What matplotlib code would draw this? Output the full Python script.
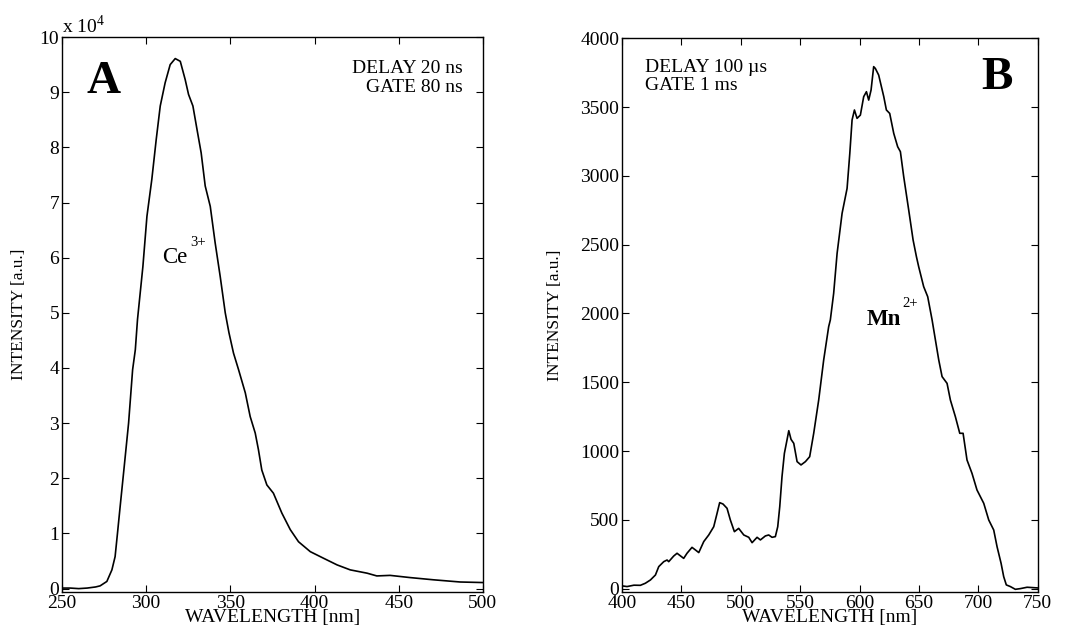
import matplotlib.pyplot as plt

plt.rcParams['font.family'] = ['Liberation Serif', 'DejaVu Serif']
plt.rcParams['mathtext.fontset'] = 'custom'
plt.rcParams['mathtext.rm'] = 'Liberation Serif'

# Panel A: Ce3+ emission (intensity in units of 10^4)
ce_wl = [250, 255, 260, 265, 270, 272.7, 276.7, 279.7, 281.6, 283, 284.6, 287, 289.6,
         292, 293.6, 294.9, 298.1, 300.5, 303.4, 306, 308.4, 311.3, 314.3, 317.3,
         320.3, 323.2, 325.2, 327.8, 330.2, 332.7, 335.1, 338.1, 341, 344, 347,
         349.2, 351.9, 354.9, 358.9, 361.8, 364.8, 366.7, 368.7, 371.7, 375.6,
         380.6, 385.6, 390.5, 397.5, 405.4, 413.4, 421.2, 431.2, 437, 444.9,
         456.8, 470.6, 486.5, 500]
ce_int = [0.01, 0.01, 0.0, 0.01, 0.03, 0.05, 0.13, 0.34, 0.58, 1.0, 1.49, 2.21, 3.0,
          3.97, 4.33, 4.88, 5.84, 6.75, 7.42, 8.14, 8.75, 9.17, 9.50, 9.61,
          9.56, 9.23, 8.96, 8.75, 8.33, 7.9, 7.3, 6.93, 6.27, 5.66, 5.0,
          4.64, 4.27, 3.97, 3.55, 3.12, 2.82, 2.52, 2.15, 1.88, 1.73,
          1.37, 1.07, 0.85, 0.67, 0.55, 0.43, 0.34, 0.28, 0.23, 0.24,
          0.20, 0.16, 0.12, 0.11]

# Panel B: Mn2+ emission
mn_wl = [400, 404.2, 410, 415.4, 419.6, 423.9, 428.1, 430.9, 435.1, 437.9, 439.3,
         443.5, 446.3, 451.9, 454.7, 458.9, 461.8, 464.6, 468.8, 473, 477.2, 480,
         482.2, 485, 488.4, 491.2, 494.6, 498.2, 502.5, 506.7, 509.5, 513.7, 516.5,
         520.7, 523.5, 526.3, 529.1, 531.1, 532.8, 534.7, 536.7, 538.9, 540.4,
         542.3, 544.6, 547.4, 550.7, 554.4, 558, 561.4, 565.6, 569.8, 574, 575.4,
         578.2, 581.1, 585.3, 589.5, 591.8, 593.7, 595.7, 597.9, 600.7, 603.5,
         605.8, 607.7, 609.7, 611.9, 613.3, 616.1, 620.4, 622.6, 625.4, 628.8,
         632.1, 634.4, 637.2, 641.4, 645.1, 647.9, 649.8, 654, 657.4, 661.1,
         663.9, 666.7, 669.5, 673.7, 676.5, 680.7, 684.4, 687.2, 690.5, 694.7,
         698.9, 704.6, 708.8, 713, 715.8, 719.2, 721.4, 723.6, 727, 731.2,
         735.4, 741.1, 750]
mn_int = [20, 15, 25, 24, 39, 63, 99, 160, 196, 208, 196,
          237, 257, 220, 257, 300, 281, 262, 342, 390, 450, 547,
          625, 615, 584, 499, 414, 438, 390, 373, 334, 373, 354,
          383, 390, 373, 378, 450, 596, 814, 983, 1080, 1148,
          1085, 1056, 923, 899, 923, 959, 1129, 1371, 1662, 1904, 1953,
          2146, 2437, 2728, 2909, 3164, 3406, 3479, 3418, 3442, 3576,
          3612, 3551, 3624, 3794, 3781, 3733, 3576, 3479, 3454, 3309,
          3212, 3176, 2994, 2752, 2534, 2413, 2340, 2195, 2122, 1953,
          1807, 1662, 1541, 1492, 1371, 1250, 1129, 1129, 935, 838,
          717, 620, 499, 426, 305, 184, 87, 27, 15, -5,
          0, 10, 5]

fig = plt.figure(figsize=(10.67, 6.28), dpi=100)
axA = fig.add_axes([0.058, 0.057, 0.3946, 0.884])
axB = fig.add_axes([0.583, 0.057, 0.3895, 0.882])

for ax in (axA, axB):
    ax.tick_params(direction='in', length=5, width=0.8, top=True, right=True,
                   labelsize=14, pad=2)
    for s in ax.spines.values():
        s.set_linewidth(1.0)
    ax.set_xlabel('WAVELENGTH [nm]', fontsize=14)
    ax.set_ylabel('INTENSITY [a.u.]', fontsize=12.5)
    ax.xaxis.set_label_coords(0.5, -0.03)

axA.yaxis.set_label_coords(-0.083, 0.5)
axB.yaxis.set_label_coords(-0.142, 0.5)

# Panel A
axA.plot(ce_wl, ce_int, color='black', lw=1.2)
axA.set_xlim(250, 500)
axA.set_ylim(-0.065, 10)
axA.set_xticks([250, 300, 350, 400, 450, 500])
axA.set_yticks(range(0, 11))
axA.text(0.0, 1.0, 'x 10$^{4}$', transform=axA.transAxes, fontsize=14,
         ha='left', va='bottom')
axA.text(0.059, 0.899, 'A', transform=axA.transAxes, fontsize=34,
         fontweight='bold', ha='left', va='baseline')
axA.text(0.952, 0.958, 'DELAY 20 ns\nGATE 80 ns', transform=axA.transAxes,
         fontsize=14, ha='right', va='top', linespacing=1.1)
axA.text(309.4, 5.91, 'Ce', fontsize=16.5, ha='left', va='baseline')
axA.text(326.2, 6.22, '3+', fontsize=10.5, ha='left', va='baseline')

# Panel B
axB.plot(mn_wl, mn_int, color='black', lw=1.2)
axB.set_xlim(400, 750)
axB.set_ylim(-26, 4000)
axB.set_xticks(range(400, 751, 50))
axB.set_yticks(range(0, 4001, 500))
axB.text(0.864, 0.908, 'B', transform=axB.transAxes, fontsize=34,
         fontweight='bold', ha='left', va='baseline')
axB.text(0.054, 0.963, 'DELAY 100 \u00b5s\nGATE 1 ms', transform=axB.transAxes,
         fontsize=14, ha='left', va='top', linespacing=1.1)
axB.text(605.7, 1917, 'Mn', fontsize=16.5, fontweight='bold', ha='left', va='baseline')
axB.text(635.8, 2049, '2+', fontsize=10.5, ha='left', va='baseline')

fig.savefig('out.png', dpi=100)
